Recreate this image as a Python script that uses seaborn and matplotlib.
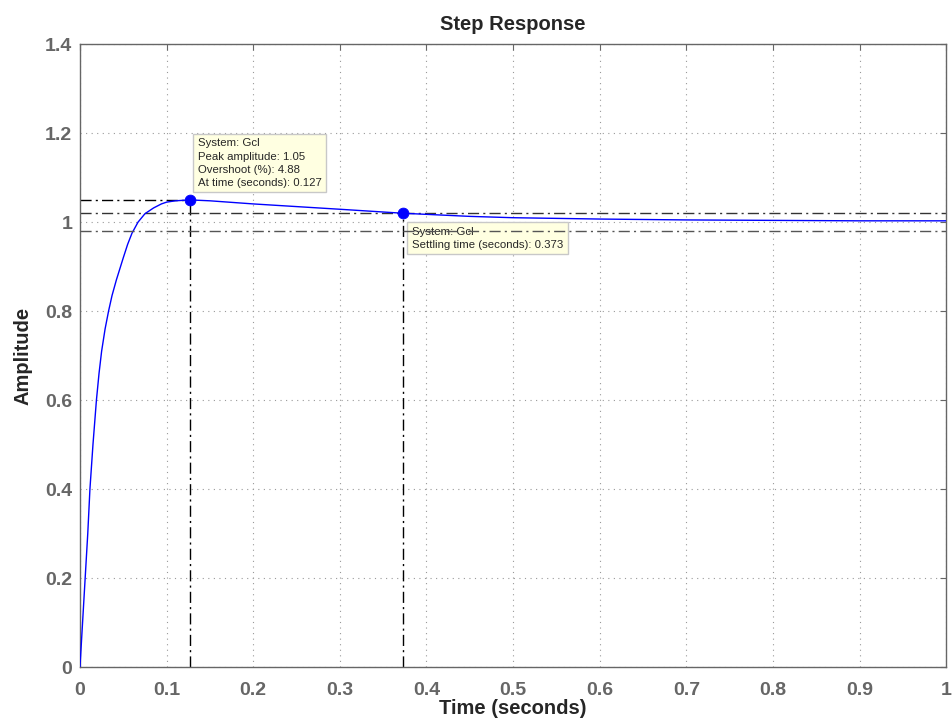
import matplotlib
matplotlib.use('Agg')
from matplotlib import pyplot as plt
import pandas as pd
import seaborn as sns

# step response samples
time_s = [0, 0.003, 0.006, 0.009, 0.0115, 0.015, 0.019, 0.022, 0.025, 0.029, 0.033,
          0.037, 0.042, 0.046, 0.05, 0.055, 0.06, 0.067, 0.075, 0.085, 0.094, 0.1,
          0.11, 0.127, 0.15, 0.2, 0.25, 0.3, 0.373, 0.45, 0.5, 0.6, 0.7, 0.8, 0.9, 1.0]
amplitude = [0, 0.10, 0.20, 0.30, 0.40, 0.50, 0.60, 0.66, 0.71, 0.76, 0.80,
             0.835, 0.87, 0.895, 0.92, 0.95, 0.975, 1.0, 1.019, 1.032, 1.041, 1.045,
             1.048, 1.05, 1.048, 1.041, 1.035, 1.029, 1.02, 1.013, 1.010, 1.007, 1.005,
             1.004, 1.003, 1.003]

peak_time = 0.127
peak_amp = 1.05
overshoot = 4.88
settle_time = 0.373
settle_amp = 1.02
band_low = 0.98
band_high = 1.02

x_ticks = [0, 0.1, 0.2, 0.3, 0.4, 0.5, 0.6, 0.7, 0.8, 0.9, 1]
x_tick_labels = ['0', '0.1', '0.2', '0.3', '0.4', '0.5', '0.6', '0.7', '0.8', '0.9', '1']
y_ticks = [0, 0.2, 0.4, 0.6, 0.8, 1.0, 1.2, 1.4]
y_tick_labels = ['0', '0.2', '0.4', '0.6', '0.8', '1', '1.2', '1.4']

df = pd.DataFrame({'t': time_s, 'y': amplitude})
pts = pd.DataFrame({'t': [peak_time, settle_time], 'y': [peak_amp, settle_amp]})

sns.set_style('white')
plt.rcParams['font.family'] = ['Liberation Sans', 'DejaVu Sans']

fig = plt.figure(figsize=(9.52, 7.25), dpi=100)
ax = fig.add_axes([0.084, 0.08, 0.91, 0.859])

grey = '#666666'
dd = [8, 3, 1.5, 3]
# characteristic lines
ax.plot([0, peak_time], [peak_amp, peak_amp], color='black', lw=1, dashes=dd)
ax.plot([peak_time, peak_time], [0, peak_amp], color='black', lw=1, dashes=dd)
ax.plot([settle_time, settle_time], [0, settle_amp], color='black', lw=1, dashes=dd)
ax.axhline(band_high, color='#333333', lw=1, dashes=dd)
ax.axhline(band_low, color='#555555', lw=1, dashes=dd, zorder=8)

sns.lineplot(data=df, x='t', y='y', ax=ax, color='blue', lw=1, zorder=5)
sns.scatterplot(data=pts, x='t', y='y', ax=ax, color='blue', s=60, edgecolor='blue', zorder=6)

box = dict(boxstyle='square,pad=0.4', facecolor='#ffffe1', edgecolor='#c8c8c8', lw=1)
ax.text(peak_time + 0.009, 1.077,
        'System: Gcl\nPeak amplitude: %.2f\nOvershoot (%%): %.2f\nAt time (seconds): %.3f'
        % (peak_amp, overshoot, peak_time),
        fontsize=8.2, va='bottom', ha='left', bbox=box, zorder=7, linespacing=1.4)
ax.text(settle_time + 0.010, 0.99,
        'System: Gcl\nSettling time (seconds): %.3f' % settle_time,
        fontsize=8.2, va='top', ha='left', bbox=box, zorder=7, linespacing=1.4)

ax.set_xlim(0, 1)
ax.set_ylim(0, 1.4)
ax.set_xticks(x_ticks)
ax.set_xticklabels(x_tick_labels)
ax.set_yticks(y_ticks)
ax.set_yticklabels(y_tick_labels)
ax.grid(True, color='#999999', linestyle=(0, (1, 4)), lw=0.8)
ax.tick_params(direction='in', length=4, color=grey, top=True, right=True,
               labelsize=14, labelcolor=grey, width=0.8)
ax.tick_params(axis='x', pad=11)
ax.tick_params(axis='y', pad=5.5)
for lab in ax.get_xticklabels() + ax.get_yticklabels():
    lab.set_fontweight('bold')
for sp in ax.spines.values():
    sp.set_color(grey)
    sp.set_linewidth(1)

ax.set_xlabel('Time (seconds)', fontsize=14.5, fontweight='bold', labelpad=0)
ax.set_ylabel('Amplitude', fontsize=14.5, fontweight='bold', labelpad=9)
ax.set_title('Step Response', fontsize=14.5, fontweight='bold', pad=10)

fig.savefig('out.png', dpi=100)
